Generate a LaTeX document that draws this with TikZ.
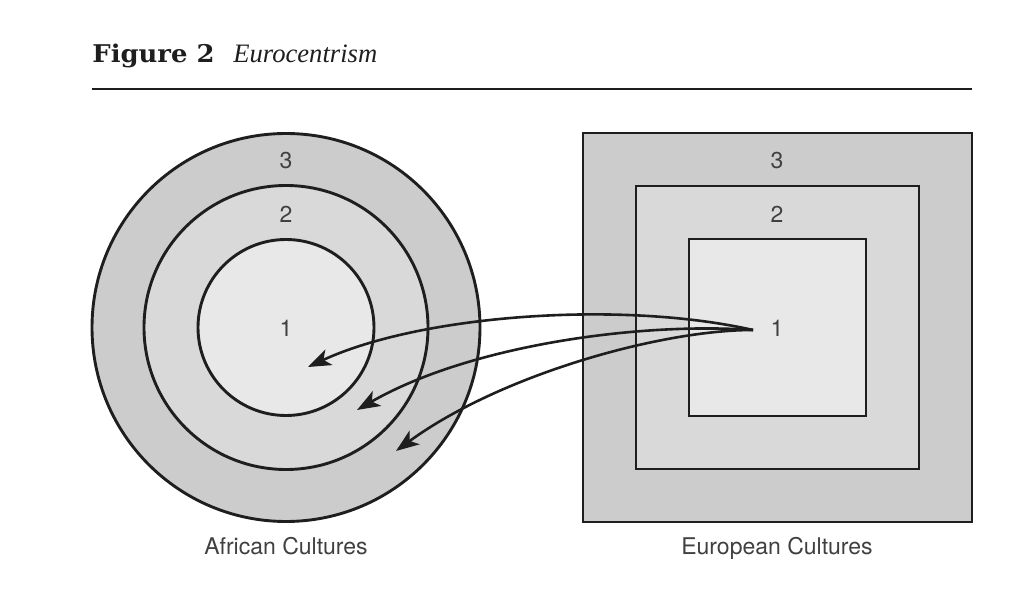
\documentclass[tikz,border=0pt]{standalone}
\usepackage{fontspec}
\setmainfont{TeX Gyre Heros}
\newfontfamily\headfont{DejaVu Serif}[FakeStretch=1.06]
\newfontfamily\headitfont{Liberation Serif}
\usetikzlibrary{arrows.meta}

\definecolor{ringA}{HTML}{CCCCCC}
\definecolor{ringB}{HTML}{D9D9D9}
\definecolor{ringC}{HTML}{E8E8E8}
\definecolor{ink}{HTML}{1E1E1E}

\tikzset{
  zone/.style={draw=ink, line width=1.45pt, inner sep=0pt},
  num/.style={font=\fontsize{11.5}{13}\selectfont, text=ink!85},
  caption/.style={font=\fontsize{11.5}{13}\selectfont, text=ink!85, anchor=base, inner sep=0pt},
  flow/.style={draw=ink, line width=1.3pt, -{Stealth[length=11.5pt, width=8.5pt, inset=3pt]}},
}

\begin{document}
\begin{tikzpicture}[x=0.5pt, y=-0.5pt]
  \useasboundingbox (0,0) rectangle (1024,598);

  % --- Titulo ---
  \node[anchor=base west, inner sep=0pt, text=ink,
        font=\headfont\bfseries\fontsize{12.2}{14}\selectfont] (fig) at (92,63) {Figure 2};
  \node[anchor=base west, inner sep=0pt, text=ink,
        font=\headitfont\itshape\fontsize{13.3}{15}\selectfont] (ttl) at (233,63) {Eurocentrism};
  \draw[ink, line width=0.8pt] (92,89) -- (972,89);

  % --- Culturas africanas: circulos ---
  \foreach \n/\r/\c in {3/194/ringA, 2/142/ringB, 1/88/ringC}
    \node[zone, circle, fill=\c, minimum size=\r pt] (afr\n) at (286,327.5) {};

  % --- Culturas europeas: cuadrados ---
  \foreach \n/\r/\c in {3/194.5/ringA, 2/141.5/ringB, 1/88.5/ringC}
    \node[zone, rectangle, fill=\c, minimum size=\r pt] (eur\n) at (777.5,327.5) {};

  % --- Numeros ---
  \foreach \n/\y in {3/161, 2/214, 1/328} {
    \node[num] (afrlab\n) at (286,\y) {\n};
    \node[num] (eurlab\n) at (777,\y) {\n};
  }

  % --- Leyendas ---
  \node[caption] (afrcap) at (286,555) {African Cultures};
  \node[caption] (eurcap) at (777,555) {European Cultures};

  % --- Flechas ---
  \coordinate (src)  at (753,330);
  \coordinate (tipA) at (308,367);
  \coordinate (tipB) at (357,410);
  \coordinate (tipC) at (396,451);
  \draw[flow] (src) .. controls (620,300) and (420,315) .. (tipA);
  \draw[flow] (src) .. controls (640,322) and (470,345) .. (tipB);
  \draw[flow] (src) .. controls (660,330) and (500,375) .. (tipC);

\end{tikzpicture}
\end{document}
